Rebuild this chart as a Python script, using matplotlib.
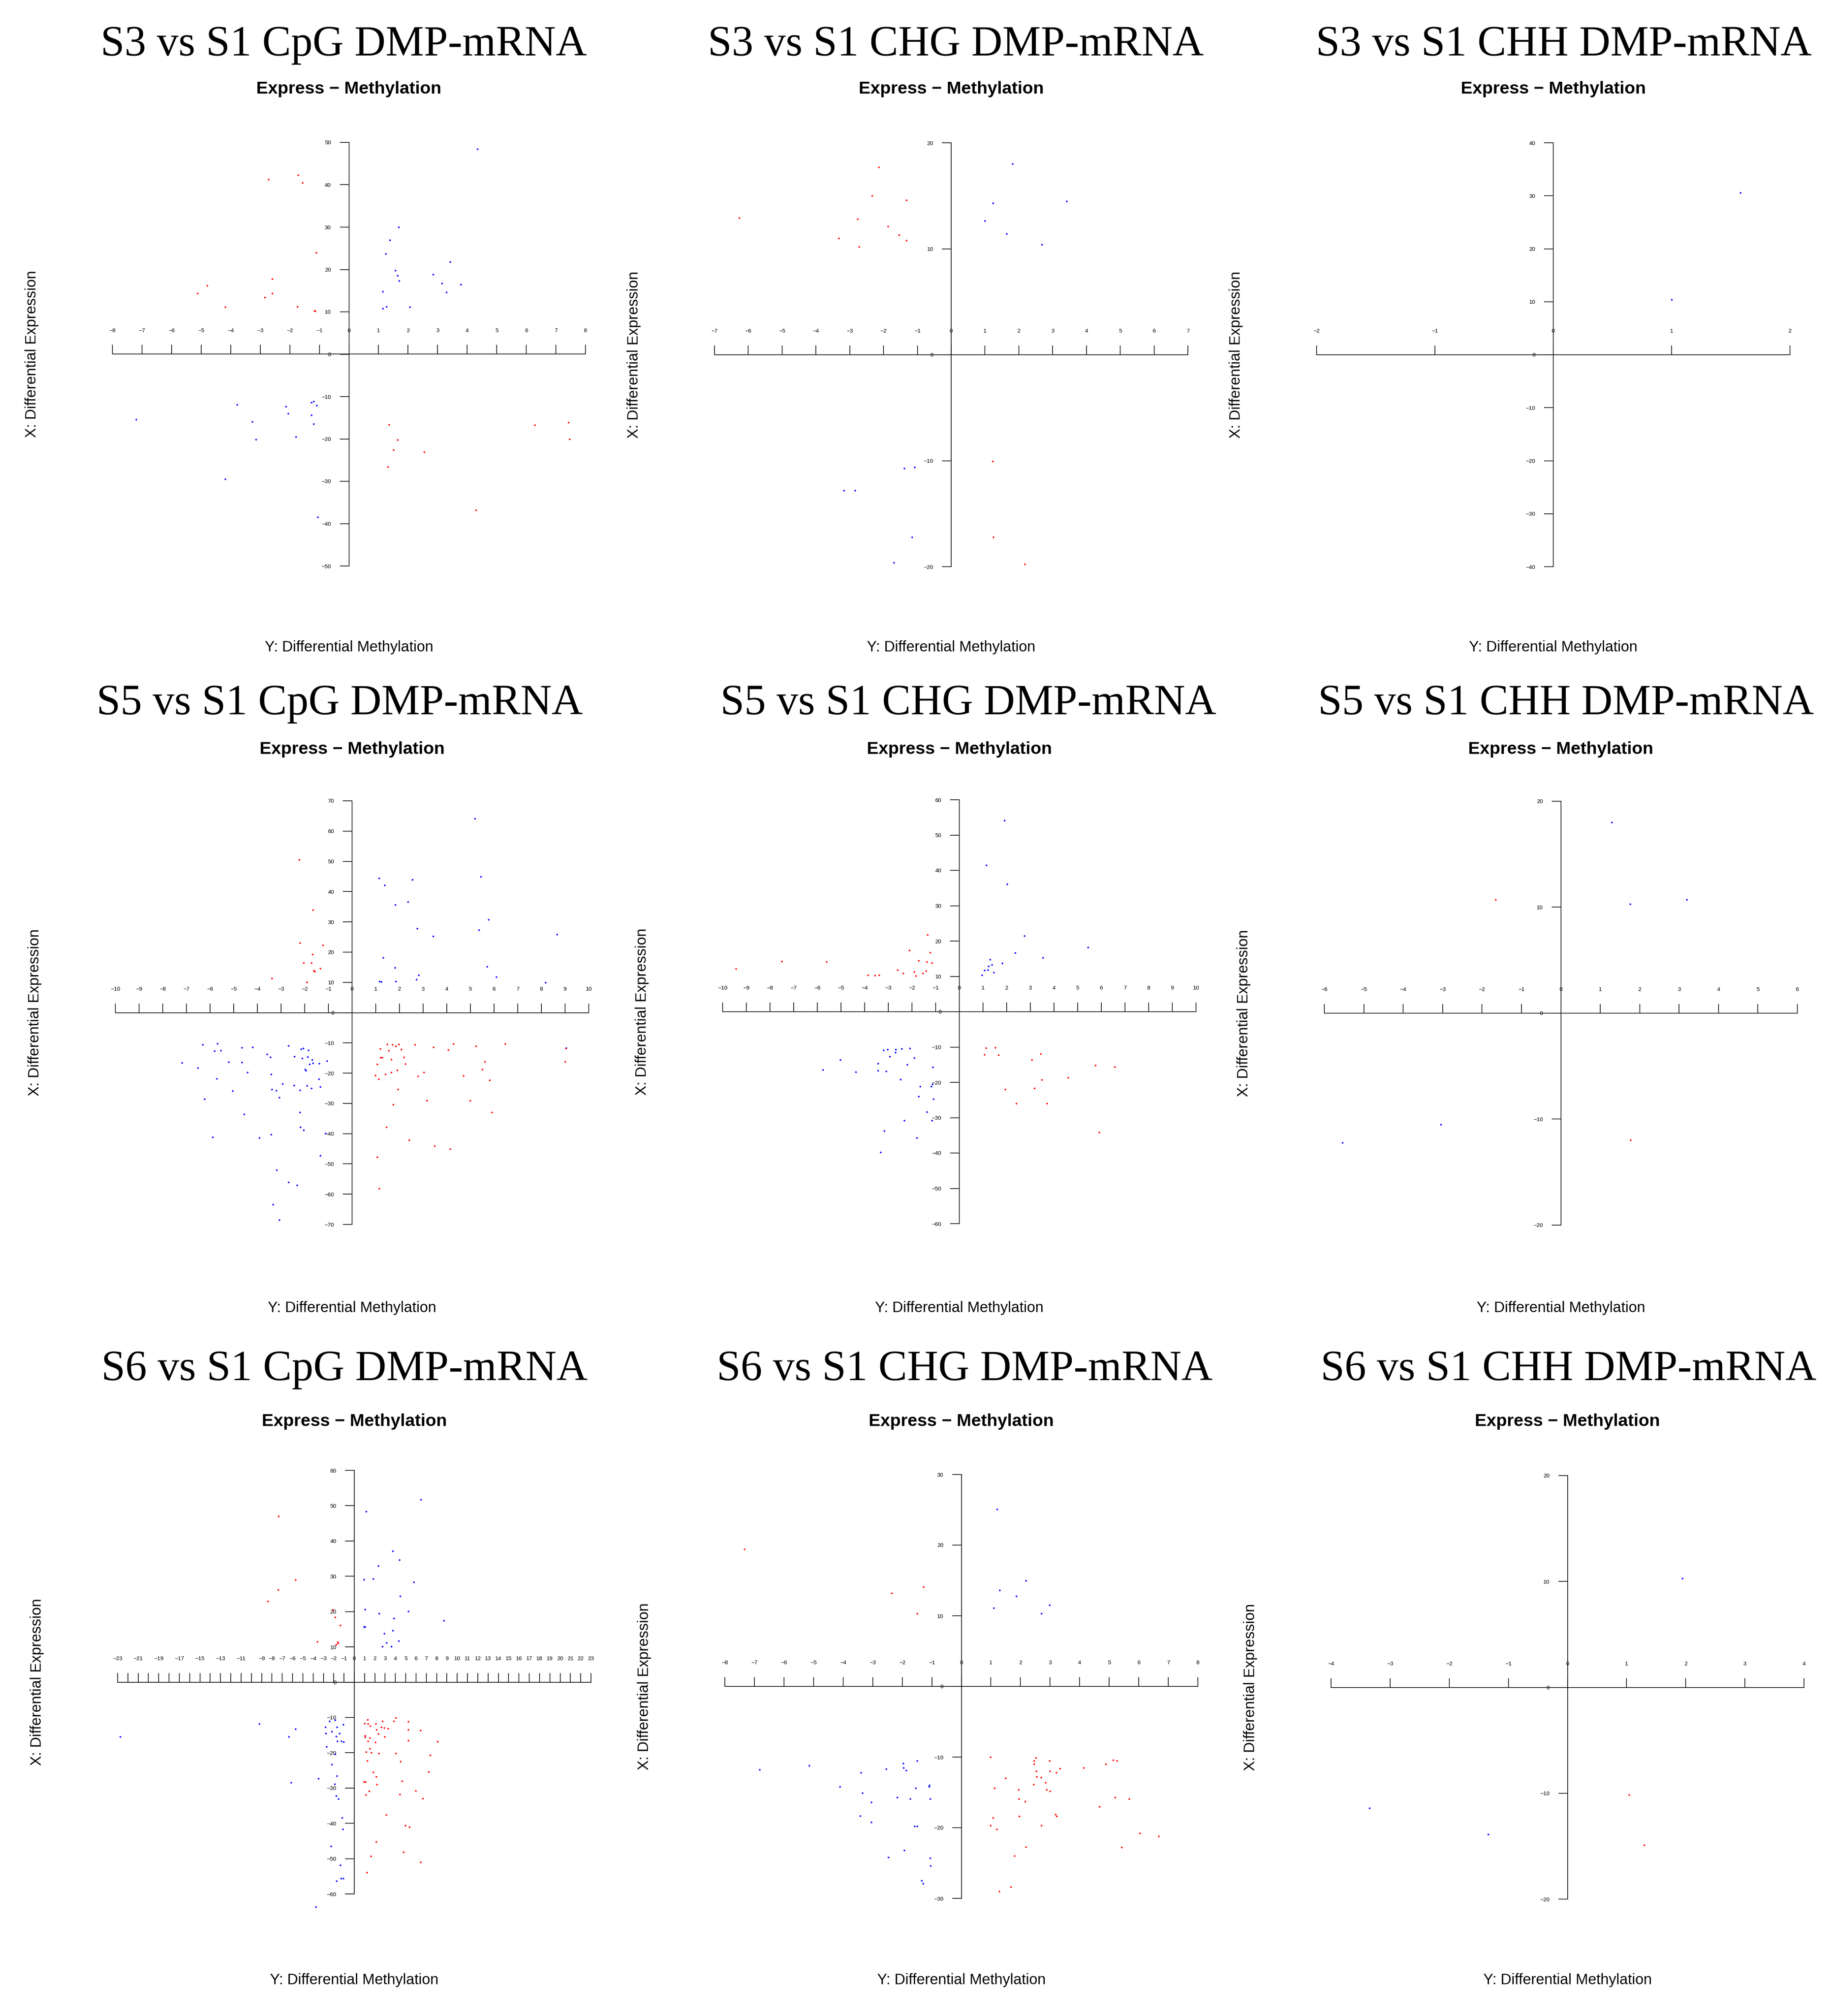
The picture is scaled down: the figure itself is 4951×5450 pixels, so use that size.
import matplotlib
matplotlib.use("Agg")
import matplotlib.pyplot as plt

plt.rcParams['font.family'] = ['Liberation Sans', 'DejaVu Sans']

W, H = 4951, 5450
DPI = 100

titles = ["S3 vs S1 CpG DMP-mRNA", "S3 vs S1 CHG DMP-mRNA", "S3 vs S1 CHH DMP-mRNA",
          "S5 vs S1 CpG DMP-mRNA", "S5 vs S1 CHG DMP-mRNA", "S5 vs S1 CHH DMP-mRNA",
          "S6 vs S1 CpG DMP-mRNA", "S6 vs S1 CHG DMP-mRNA", "S6 vs S1 CHH DMP-mRNA"]

# axis extents (x: methylation, y: expression)
x_limits = [8, 7, 2, 10, 10, 6, 23, 8, 4]
y_limits = [50, 20, 40, 70, 60, 20, 60, 30, 20]

# ---- S3 vs S1 CpG
p1_red_x = [-2.72, -1.72, -1.57, -1.11, -2.60, -2.59, -2.84, -4.80, -5.12, -4.19, -1.74, -1.17, -1.14,
            1.36, 1.64, 1.51, 2.55, 1.32, 6.29, 7.42, 7.46, 4.30]
p1_red_y = [41.3, 42.3, 40.5, 24.0, 17.8, 14.4, 13.4, 16.2, 14.4, 11.1, 11.2, 10.3, 10.2,
            -16.6, -20.2, -22.6, -23.1, -26.6, -16.7, -16.1, -20.0, -36.8]
p1_blue_x = [4.35, 1.68, 1.38, 1.24, 1.57, 1.64, 1.69, 1.15, 1.27, 1.14, 2.06, 2.85, 3.42, 3.15, 3.30, 3.79,
             -7.20, -3.79, -3.27, -3.15, -4.18, -2.13, -2.06, -1.80, -1.27, -1.19, -1.09, -1.27, -1.19, -1.06]
p1_blue_y = [48.4, 30.0, 26.9, 23.7, 19.8, 18.6, 17.3, 14.8, 11.2, 10.8, 11.1, 18.8, 21.8, 16.7, 14.6, 16.5,
             -15.4, -11.9, -15.9, -20.1, -29.5, -12.4, -14.0, -19.5, -11.4, -11.1, -12.1, -14.4, -16.5, -38.5]

# ---- S3 vs S1 CHG
p2_red_x = [-6.27, -2.14, -2.34, -1.32, -2.77, -1.87, -3.32, -1.54, -1.32, -2.72, 1.22, 1.25, 2.18]
p2_red_y = [12.9, 17.7, 15.0, 14.6, 12.8, 12.1, 11.0, 11.3, 10.8, 10.2, -10.05, -17.2, -19.75]
p2_blue_x = [1.82, 1.24, 3.41, 0.99, 1.64, 2.68, -1.39, -1.08, -3.17, -2.84, -1.16, -1.70]
p2_blue_y = [18.0, 14.3, 14.5, 12.65, 11.4, 10.4, -10.7, -10.6, -12.8, -12.8, -17.2, -19.6]

# ---- S3 vs S1 CHH
p3_red_x = []
p3_red_y = []
p3_blue_x = [1.58, 1.00]
p3_blue_y = [30.6, 10.4]

# ---- S5 vs S1 CpG
p4_red_x = [-2.23, -1.65, -2.20, -1.23, -1.67, -2.05, -1.72, -1.34, -1.62, -1.58, -3.39, -1.91,
            1.49, 1.70, 1.97, 1.84, 2.65, 1.19, 1.55, 2.08, 1.21, 1.27, 2.18, 1.66, 1.06, 2.25, 0.99,
            1.41, 1.12, 1.66, 1.90, 3.03, 2.78, 1.94, 3.15, 1.73, 1.46, 2.40, 3.49, 4.14, 1.06, 1.14,
            3.44, 4.06, 4.28, 5.23, 6.47, 4.70, 5.50, 5.61, 5.82, 4.98, 5.91, 9.03, 9.00]
p4_red_y = [50.6, 33.9, 23.1, 22.3, 19.2, 16.4, 16.4, 14.6, 13.9, 13.6, 11.3, 10.1,
            -10.4, -10.6, -10.5, -11.1, -10.6, -11.9, -12.5, -12.2, -14.8, -14.8, -14.7, -15.5, -17.1, -16.9, -20.7,
            -20.3, -21.9, -19.7, -19.0, -19.7, -21.0, -25.4, -29.1, -30.4, -37.8, -42.1, -44.1, -45.1, -47.7, -58.2,
            -11.4, -12.3, -10.3, -11.1, -10.3, -20.8, -18.8, -16.2, -22.3, -29.1, -32.9, -11.8, -16.2]
p4_blue_x = [5.19, 1.14, 1.38, 2.54, 5.43, 2.36, 1.83, 5.76, 2.75, 5.36, 3.42, 8.66, 1.31, 1.81, 5.70,
             2.82, 6.09, 2.72, 1.16, 1.23, 1.84, 8.17, 9.04,
             -7.18, -6.51, -6.32, -5.69, -5.82, -5.55, -5.72, -6.23, -5.89, -5.22, -5.05, -4.66, -4.66, -4.42,
             -4.20, -4.56, -3.92, -3.60, -3.46, -3.42, -3.39, -3.21, -3.08, -2.93, -3.42, -3.18, -2.68, -2.44,
             -2.45, -2.68, -2.33, -3.35, -3.08, -2.15, -2.06, -1.84, -2.11, -1.88, -1.69, -1.65, -1.79, -1.98,
             -1.95, -2.20, -1.90, -1.72, -1.39, -1.06, -1.41, -1.34, -2.20, -2.19, -2.04, -1.12, -1.35]
p4_blue_y = [64.1, 44.5, 42.1, 43.9, 44.9, 36.6, 35.6, 30.8, 27.8, 27.3, 25.2, 25.9, 18.1, 14.9, 15.2,
             12.4, 11.8, 10.9, 10.3, 10.2, 10.3, 10.0, -11.7,
             -16.6, -18.3, -10.6, -10.2, -12.7, -12.5, -21.8, -28.5, -41.2, -16.3, -25.9, -11.6, -16.5, -19.7,
             -11.4, -33.6, -41.4, -13.7, -14.7, -20.4, -25.4, -25.7, -28.0, -23.5, -40.3, -52.0, -10.9, -14.5,
             -24.0, -56.1, -57.1, -63.4, -68.5, -12.1, -11.8, -12.4, -15.1, -14.6, -15.6, -16.7, -17.1, -18.8,
             -19.1, -25.6, -24.2, -25.0, -16.8, -15.9, -21.9, -24.5, -32.9, -37.9, -38.8, -39.9, -47.2]

# ---- S5 vs S1 CHG
p5_red_x = [-9.43, -7.50, -5.61, -3.86, -3.56, -3.39, -2.61, -2.37, -2.11, -1.91, -1.85, -1.72, -1.55,
            -1.41, -1.38, -1.34, -1.23, -1.16,
            1.12, 1.52, 1.07, 1.65, 3.07, 3.44, 3.49, 3.17, 1.94, 2.40, 3.71, 4.60, 5.75, 6.57, 5.90]
p5_red_y = [12.1, 14.2, 14.1, 10.4, 10.3, 10.4, 11.8, 10.9, 17.4, 11.3, 10.2, 14.5, 10.9,
            11.5, 14.1, 21.8, 16.8, 13.8,
            -10.3, -10.2, -12.1, -12.3, -13.6, -11.9, -19.3, -21.7, -22.0, -26.0, -26.0, -18.6, -15.2, -15.6, -34.1]
p5_blue_x = [1.90, 1.14, 2.02, 2.75, 2.36, 5.43, 3.53, 1.30, 1.38, 1.81, 1.23, 1.06, 1.21, 1.46, 0.96,
             -5.77, -5.03, -4.37, -3.43, -3.43, -3.21, -3.03, -3.10, -2.93, -2.68, -2.71, -2.44, -2.09, -1.90,
             -2.20, -2.48, -1.12, -1.66, -1.14, -1.19, -1.72, -1.10, -1.38, -2.33, -1.16, -3.17, -1.80, -3.33]
p5_blue_y = [54.1, 41.5, 36.1, 21.5, 16.6, 18.2, 15.3, 14.8, 13.3, 13.7, 12.9, 11.7, 11.8, 11.1, 10.4,
             -16.4, -13.6, -17.1, -14.7, -16.6, -10.9, -10.7, -16.9, -12.7, -10.7, -11.5, -10.5, -10.4, -13.1,
             -15.0, -19.2, -15.7, -21.2, -20.5, -21.2, -24.0, -24.7, -28.4, -30.8, -30.8, -33.7, -35.7, -39.8]

# ---- S5 vs S1 CHH
p6_red_x = [-1.66, 1.77]
p6_red_y = [10.7, -11.96]
p6_blue_x = [1.29, 1.76, 3.19, -5.54, -3.04]
p6_blue_y = [18.0, 10.3, 10.7, -12.2, -10.5]

# ---- S6 vs S1 CpG
p7_red_x = [-7.38, -5.71, -7.41, -8.41, -2.09, -1.86, -1.35, -3.59, -1.60, -1.57, -1.76,
            1.28, 4.04, 2.73, 3.85, 5.26, 0.99, 1.32, 1.54, 2.09, 2.63, 2.92, 3.27, 2.15, 5.26, 6.42,
            2.34, 1.03, 1.03, 2.95, 1.51, 1.32, 2.05, 5.23, 8.08, 1.51, 1.15, 1.64, 2.37, 4.04, 7.38,
            1.25, 4.49, 1.83, 7.22, 2.12, 0.93, 1.09, 4.62, 2.18, 1.44, 5.97, 1.12, 4.43, 6.64, 3.08,
            4.97, 5.36, 2.12, 4.78, 1.60, 6.45, 1.22]
p7_red_y = [47.0, 29.0, 26.2, 22.9, 20.5, 18.4, 16.1, 11.5, 11.4, 11.1, 10.6,
            -10.6, -10.1, -11.1, -11.1, -11.2, -11.7, -11.8, -12.4, -11.8, -12.7, -12.9, -13.2, -13.5, -13.5, -13.7,
            -14.6, -15.1, -15.6, -15.5, -15.8, -16.7, -17.0, -16.5, -16.8, -18.8, -19.8, -20.0, -20.2, -20.2, -20.7,
            -22.3, -22.5, -25.5, -25.4, -26.8, -28.2, -28.2, -28.0, -29.0, -30.9, -30.8, -31.9, -31.8, -33.0, -37.6,
            -40.6, -41.0, -45.2, -48.2, -49.3, -51.0, -53.9]
p7_blue_x = [6.48, 1.15, 3.75, 4.40, 2.34, 0.93, 1.83, 5.77, 4.46, 1.06, 2.41, 5.23, 3.85, 8.69, 0.93,
             1.03, 3.75, 2.92, 4.33, 3.11, 2.73, 3.59,
             -22.75, -9.24, -5.71, -6.35, -6.13, -3.50, -2.82, -2.41, -1.86, -2.76, -2.18, -1.70, -1.44, -1.76,
             -1.09, -1.64, -1.25, -1.06, -2.69, -1.86, -2.18, -1.70, -1.92, -1.76, -1.54, -1.19, -1.12, -2.28,
             -1.35, -1.28, -1.09, -1.73, -3.72]
p7_blue_y = [51.7, 48.4, 37.2, 34.6, 33.0, 29.1, 29.3, 28.4, 24.4, 20.6, 19.4, 20.1, 18.1, 17.4, 15.7,
             15.7, 14.6, 13.8, 11.7, 11.2, 10.1, 10.1,
             -15.5, -11.8, -13.3, -15.5, -28.5, -27.3, -12.7, -11.1, -10.7, -14.5, -14.0, -12.7, -14.5, -15.4,
             -12.0, -16.7, -16.7, -16.9, -18.3, -20.4, -23.3, -26.6, -28.9, -32.2, -33.1, -38.4, -41.7, -46.5,
             -51.8, -55.6, -55.6, -56.3, -63.7]

# ---- S6 vs S1 CHG
p8_red_x = [-7.34, -2.36, -1.28, -1.50,
            0.98, 2.52, 2.46, 2.46, 2.98, 5.14, 5.26, 4.89, 3.34, 4.14, 2.53, 2.99, 3.21, 2.55, 2.69,
            1.49, 2.85, 2.44, 1.12, 1.93, 2.88, 2.99, 1.95, 2.16, 5.20, 5.67, 4.67, 3.18, 3.22, 1.96,
            1.07, 0.98, 1.20, 2.71, 6.03, 6.68, 2.18, 5.42, 1.80, 1.67, 1.28]
p8_red_y = [19.4, 13.2, 14.1, 10.3,
            -10.0, -10.1, -10.5, -11.0, -10.5, -10.4, -10.5, -11.0, -11.6, -11.5, -12.0, -12.0, -12.2, -12.8, -12.9,
            -13.0, -13.6, -13.9, -14.4, -14.6, -14.6, -14.8, -15.9, -16.3, -15.7, -15.9, -17.0, -18.1, -18.4, -18.4,
            -18.6, -19.7, -20.2, -19.7, -20.8, -21.2, -22.7, -22.8, -24.0, -28.4, -29.0]
p8_blue_x = [1.21, 2.18, 1.30, 1.86, 1.09, 2.98, 2.71,
             -6.82, -5.15, -3.40, -4.11, -3.35, -3.04, -3.42, -3.04, -2.54, -1.97, -1.96, -1.87, -1.49, -2.17,
             -1.73, -1.55, -1.08, -1.10, -1.06, -1.58, -1.50, -1.93, -2.47, -1.06, -1.04, -1.35, -1.30]
p8_blue_y = [25.1, 15.0, 13.6, 12.8, 11.1, 11.5, 10.3,
             -11.8, -11.2, -12.2, -14.2, -15.1, -16.4, -18.3, -19.2, -11.7, -10.9, -11.5, -11.9, -10.5, -15.7,
             -15.9, -14.4, -14.0, -14.2, -15.9, -19.8, -19.8, -23.2, -24.2, -24.3, -25.4, -27.5, -27.9]

# ---- S6 vs S1 CHH
p9_red_x = [1.04, 1.30]
p9_red_y = [-10.15, -14.9]
p9_blue_x = [1.94, -3.35, -1.34]
p9_blue_y = [10.3, -11.4, -13.9]

red_x = [p1_red_x, p2_red_x, p3_red_x, p4_red_x, p5_red_x, p6_red_x, p7_red_x, p8_red_x, p9_red_x]
red_y = [p1_red_y, p2_red_y, p3_red_y, p4_red_y, p5_red_y, p6_red_y, p7_red_y, p8_red_y, p9_red_y]
blue_x = [p1_blue_x, p2_blue_x, p3_blue_x, p4_blue_x, p5_blue_x, p6_blue_x, p7_blue_x, p8_blue_x, p9_blue_x]
blue_y = [p1_blue_y, p2_blue_y, p3_blue_y, p4_blue_y, p5_blue_y, p6_blue_y, p7_blue_y, p8_blue_y, p9_blue_y]

# x tick labels that R managed to print on the crowded S6 CpG axis
p7_shown = [-23, -21, -19, -17, -15, -13, -11] + list(range(-9, 24))

# layout in pixels: left, top, right, bottom of the axis cross, title centre x
boxes = [(304, 385, 1583, 1530), (1932, 386, 3212, 1532), (3560, 386, 4840, 1532),
         (312, 2165, 1592, 3310), (1954, 2162, 3234, 3308), (3581, 2166, 4860, 3312),
         (318, 3975, 1598, 5120), (1960, 3986, 3239, 5132), (3599, 3989, 4878, 5134)]
title_cx = [929, 2584, 4228, 918, 2618, 4234, 932, 2608, 4241]
title_base = [150, 1931, 3731]
sub_y = [241, 2026, 3843]
lab_y = [1750, 3536, 5353]

fig = plt.figure(figsize=(W / DPI, H / DPI), dpi=DPI)
fig.patch.set_facecolor('white')

for i in range(9):
    l, t, r, b = boxes[i]
    row = i // 3
    ax = fig.add_axes([l / W, 1 - b / H, (r - l) / W, (b - t) / H])
    xl, yl = x_limits[i], y_limits[i]
    ax.set_xlim(-xl, xl)
    ax.set_ylim(-yl, yl)
    ax.patch.set_alpha(0)

    for s in ['right', 'bottom']:
        ax.spines[s].set_visible(False)
    ax.spines['top'].set_position(('data', 0))
    ax.spines['left'].set_position(('data', 0))
    for s in ['top', 'left']:
        ax.spines[s].set_linewidth(1.3)
    ax.xaxis.set_ticks_position('top')
    ax.yaxis.set_ticks_position('left')
    ax.tick_params(axis='x', direction='out', length=18, width=1.3, pad=23, labelsize=11)
    ax.tick_params(axis='y', direction='out', length=18, width=1.3, pad=17, labelsize=11)

    xt = list(range(-xl, xl + 1))
    ax.set_xticks(xt)
    if i == 6:
        ax.set_xticklabels([str(v).replace('-', '\u2212') if v in p7_shown else '' for v in xt])
    else:
        ax.set_xticklabels([str(v).replace('-', '\u2212') for v in xt])
    yt = list(range(-yl, yl + 1, 10))
    ax.set_yticks(yt)
    ax.set_yticklabels([str(v).replace('-', '\u2212') for v in yt])

    ax.plot(blue_x[i], blue_y[i], 'o', color='#0000FF', ms=3.3, mew=0, clip_on=False)
    ax.plot(red_x[i], red_y[i], 'o', color='#FF0000', ms=3.3, mew=0, clip_on=False)

    cx = (l + r) / 2
    fig.text(title_cx[i] / W, 1 - title_base[row] / H, titles[i], ha='center', va='baseline',
             fontsize=84, family=['Liberation Serif', 'DejaVu Serif'])
    fig.text(cx / W, 1 - sub_y[row] / H, "Express \u2212 Methylation", ha='center', va='center',
             fontsize=34, fontweight='bold')
    fig.text(cx / W, 1 - lab_y[row] / H, "Y: Differential Methylation", ha='center', va='center',
             fontsize=29)
    fig.text((l - 218) / W, 1 - ((t + b) / 2) / H, "X: Differential Expression", ha='center', va='center',
             rotation=90, fontsize=29)

fig.savefig("out.png", dpi=DPI, facecolor='white')
